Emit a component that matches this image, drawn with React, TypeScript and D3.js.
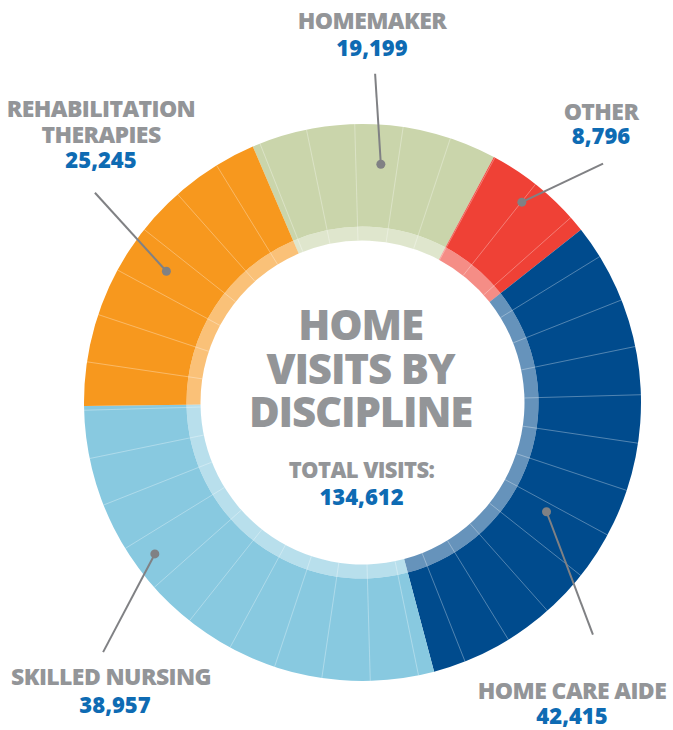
import { useRef, useEffect } from 'react';
import * as d3 from 'd3';

// visits per discipline, clockwise from the top-left
const disciplines = ['HOMEMAKER', 'OTHER', 'HOME CARE AIDE', 'SKILLED NURSING', 'REHABILITATION THERAPIES'];
const visits = [19199, 8796, 42415, 38957, 25245];
const colors = ['#cad5ab', '#ef4136', '#004b8d', '#88c9e0', '#f7981e'];
const totalVisits = 134612;
const titleLines = ['HOME', 'VISITS BY', 'DISCIPLINE'];

const GRAY = '#939598';
const BLUE = '#0e6bb3';
const LEADER = '#808184';

// where each label sits, and the leader line in polar terms (deg from top, radius)
const labelLayout = [
  { lines: ['HOMEMAKER'], x: 372, y: 29, vy: 27, dot: [4.4, 239], end: [2.2, 329] },
  { lines: ['OTHER'], x: 601, y: 120, vy: 24, dot: [38.5, 256], end: [45.2, 339] },
  { lines: ['HOME CARE AIDE'], x: 572, y: 699, vy: 25, dot: [120.7, 214], end: [135.2, 327] },
  { lines: ['SKILLED NURSING'], x: 111, y: 685, vy: 28, dot: [233.9, 257], end: [226.1, 360] },
  { lines: ['REHABILITATION', 'THERAPIES'], x: 101, y: 117, vy: 25, dot: [303.8, 236], end: [308.1, 340] }
];

const App = () => {
  const d3Container = useRef(null);
  const width = 673;
  const height = 730;
  const cx = 362.5;
  const cy = 402.5;
  const outerR = 278.5;
  const ringR = 176;
  const innerR = 162;
  const font = '"Open Sans", "Noto Sans", sans-serif';

  useEffect(() => {
    if (!d3Container.current) return;
    d3.select(d3Container.current).select('svg').remove();

    const svg = d3
      .select(d3Container.current)
      .append('svg')
      .attr('width', width)
      .attr('height', height)
      .style('display', 'block');

    const g = svg.append('g').attr('transform', `translate(${cx},${cy})`);

    const toRad = d => (d * Math.PI) / 180;
    const polar = (deg, r) => [r * Math.sin(toRad(deg)), -r * Math.cos(toRad(deg))];

    const pie = d3
      .pie()
      .sort(null)
      .value(d => d)
      .startAngle(toRad(-23.2))
      .endAngle(toRad(-23.2 + 360));

    const arcs = pie(visits);

    const outerArc = d3.arc().innerRadius(ringR).outerRadius(outerR);
    const ringArc = d3.arc().innerRadius(innerR).outerRadius(ringR);

    g.selectAll('path.slice')
      .data(arcs)
      .enter()
      .append('path')
      .attr('class', 'slice')
      .attr('d', outerArc)
      .attr('fill', (d, i) => colors[i]);

    // lighter inner band
    g.selectAll('path.band')
      .data(arcs)
      .enter()
      .append('path')
      .attr('class', 'band')
      .attr('d', ringArc)
      .attr('fill', (d, i) => colors[i])
      .attr('fill-opacity', 0.6);

    // thin dividers every 10 degrees
    g.selectAll('line.div')
      .data(d3.range(36).map(k => 8.4 + k * 10))
      .enter()
      .append('line')
      .attr('class', 'div')
      .attr('x1', d => polar(d, innerR)[0])
      .attr('y1', d => polar(d, innerR)[1])
      .attr('x2', d => polar(d, outerR)[0])
      .attr('y2', d => polar(d, outerR)[1])
      .attr('stroke', '#fff')
      .attr('stroke-opacity', 0.4)
      .attr('stroke-width', 0.8);

    // leader lines + dots
    labelLayout.forEach(l => {
      const [x1, y1] = polar(l.dot[0], l.dot[1]);
      const [x2, y2] = polar(l.end[0], l.end[1]);
      g.append('line')
        .attr('x1', x1)
        .attr('y1', y1)
        .attr('x2', x2)
        .attr('y2', y2)
        .attr('stroke', LEADER)
        .attr('stroke-width', 2);
      g.append('circle').attr('cx', x1).attr('cy', y1).attr('r', 4.5).attr('fill', LEADER);
    });

    // outer labels
    const fmt = d3.format(',');
    labelLayout.forEach((l, i) => {
      const t = svg
        .append('text')
        .attr('text-anchor', 'middle')
        .style('font-family', font)
        .style('font-weight', 800);
      l.lines.forEach((line, j) => {
        t.append('tspan')
          .attr('x', l.x)
          .attr('y', l.y + j * 26)
          .attr('fill', GRAY)
          .style('font-size', '23px')
          .style('letter-spacing', '-0.6px')
          .text(line);
      });
      t.append('tspan')
        .attr('x', l.x + (i === 3 ? 4 : 0))
        .attr('y', l.y + (l.lines.length - 1) * 26 + l.vy)
        .attr('fill', BLUE)
        .style('font-size', '22px')
        .text(fmt(visits[i]));
    });

    // centre title
    svg
      .append('g')
      .selectAll('text')
      .data(titleLines)
      .enter()
      .append('text')
      .attr('x', cx - 2)
      .attr('y', (d, i) => 340 + i * 43.5)
      .attr('text-anchor', 'middle')
      .attr('fill', GRAY)
      .style('font-family', font)
      .style('font-weight', 800)
      .style('font-size', '42px')
      .style('letter-spacing', '-1.2px')
      .text(d => d);

    svg
      .append('text')
      .attr('x', cx - 1)
      .attr('y', 478)
      .attr('text-anchor', 'middle')
      .attr('fill', GRAY)
      .style('font-family', font)
      .style('font-weight', 800)
      .style('font-size', '22px')
      .style('letter-spacing', '-0.6px')
      .text('TOTAL VISITS:');

    svg
      .append('text')
      .attr('x', cx - 1)
      .attr('y', 505)
      .attr('text-anchor', 'middle')
      .attr('fill', BLUE)
      .style('font-family', font)
      .style('font-weight', 800)
      .style('font-size', '22px')
      .text(fmt(totalVisits));
  }, []);

  return (
    <>
      <style>{`body { margin: 0; }`}</style>
      <div ref={d3Container} />
    </>
  );
};

export default App;
